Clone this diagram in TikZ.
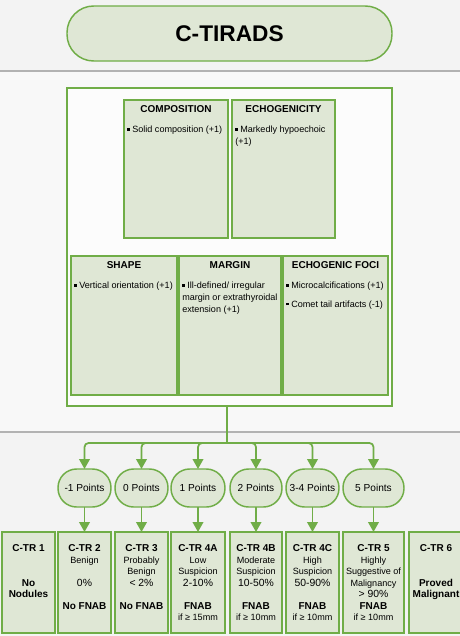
\documentclass[tikz,border=0pt]{standalone}
\usepackage{fontspec}
\setmainfont{Liberation Sans}
\usetikzlibrary{arrows.meta}
\definecolor{leaf}{HTML}{70AD47}
\definecolor{sage}{HTML}{DFE7D5}
\definecolor{bandgray}{HTML}{F3F3F3}
\definecolor{midgray}{HTML}{F8F8F8}
\definecolor{rulegray}{HTML}{B2B2B2}
\newcommand{\ctrhead}{\fontsize{7.5}{9}\selectfont\bfseries}
\newcommand{\ctrdesc}{\fontsize{6.8}{8}\selectfont}
\newcommand{\ctrpct}{\fontsize{7.8}{9}\selectfont}
\newcommand{\sqbullet}{\rule[0.22em]{0.28em}{0.28em}\ }
\tikzset{
  greenbox/.style={draw=leaf, fill=sage, line width=1.1pt, inner sep=0pt, outer sep=0pt},
  pill/.style={greenbox, rounded corners=14pt, font=\fontsize{7.6}{9}\selectfont},
  feathead/.style={inner sep=0pt, font=\fontsize{7.5}{9}\selectfont\bfseries},
  featbody/.style={inner sep=0pt, align=left, font=\fontsize{6.8}{8.8}\selectfont},
  rowtext/.style={anchor=base, inner sep=0pt},
  trunk/.style={draw=leaf, line width=1.7pt},
  branch/.style={draw=leaf, line width=1.3pt, rounded corners=3pt, -{Triangle[width=8pt,length=7.5pt]}},
  rule/.style={draw=rulegray, line width=0.9pt}
}
\newcommand{\featurebox}[7]{
  \node[greenbox, minimum width={(#4-#2)*0.75pt}, minimum height={(#5-#3)*0.75pt}] (#1) at ({(#2+#4)/2},{(#3+#5)/2}) {};
  \node[feathead, anchor=base] (#1-head) at ({(#2+#4)/2},{#3+12}) {#6};
  \node[featbody, anchor=north west] (#1-body) at ({#2+3},{#3+26}) {#7};
}
\newcommand{\pointpill}[4]{
  \node[pill, minimum width={(#3-#2)*0.75pt}, minimum height=28.5pt] (#1) at ({(#2+#3)/2},488) {#4};
}
\newcommand{\resultbox}[4]{
  \node[greenbox, minimum width={(#3-#2)*0.75pt}, minimum height=75.75pt] (#1) at ({(#2+#3)/2},582.5) {};
  \foreach \r/\t in {#4}{
    \node[rowtext] (#1-\r) at ({(#2+#3)/2},{551.5+11.5*\r}) {\t};
  }
}

\begin{document}
\begin{tikzpicture}[x=0.75pt, y=-0.75pt]
  \useasboundingbox (0,0) rectangle (460,636);
  \fill[bandgray] (0,0) rectangle (460,71);
  \fill[midgray] (0,71) rectangle (460,432);
  \fill[bandgray] (0,432) rectangle (460,636);
  \draw[rule] (0,71) -- (460,71);
  \draw[rule] (0,432) -- (460,432);

  \node[greenbox, rounded corners=20pt, minimum width=243.75pt, minimum height=41.25pt,
        font=\fontsize{17}{20}\selectfont\bfseries] (title) at (229.5,33.5) {C-TIRADS};

  \node[draw=leaf, fill=white!60!midgray, line width=1.1pt, inner sep=0pt,
        minimum width=243.75pt, minimum height=238.5pt] (frame) at (229.5,247) {};

  \featurebox{comp}{124}{100}{228}{238}{COMPOSITION}{\sqbullet Solid composition (+1)}
  \featurebox{echo}{232}{100}{335}{238}{ECHOGENICITY}{\sqbullet Markedly hypoechoic\\(+1)}
  \featurebox{shape}{71}{256}{177}{395}{SHAPE}{\sqbullet Vertical orientation (+1)}
  \featurebox{margin}{179}{256}{281}{395}{MARGIN}{\sqbullet Ill-defined/ irregular\\margin or extrathyroidal\\extension (+1)}
  \featurebox{foci}{283}{256}{388}{395}{ECHOGENIC FOCI}{\sqbullet Microcalcifications (+1)\\[5pt]\sqbullet Comet tail artifacts (-1)}

  \pointpill{pm1}{58}{111}{-1 Points}
  \pointpill{p0}{115}{168}{0 Points}
  \pointpill{p1}{171}{225}{1 Points}
  \pointpill{p2}{230}{282}{2 Points}
  \pointpill{p34}{286}{339}{3-4 Points}
  \pointpill{p5}{343}{404}{5 Points}

  \resultbox{ctr1}{2}{55}{0/{\ctrhead C-TR 1}, 3/{\ctrhead No}, 4/{\ctrhead Nodules}}
  \resultbox{ctr2}{58}{111}{0/{\ctrhead C-TR 2}, 1/{\ctrdesc Benign}, 3/{\ctrpct 0\%}, 5/{\ctrhead No FNAB}}
  \resultbox{ctr3}{115}{168}{0/{\ctrhead C-TR 3}, 1/{\ctrdesc Probably}, 2/{\ctrdesc Benign}, 3/{\ctrpct < 2\%}, 5/{\ctrhead No FNAB}}
  \resultbox{ctr4a}{171}{225}{0/{\ctrhead C-TR 4A}, 1/{\ctrdesc Low}, 2/{\ctrdesc Suspicion}, 3/{\ctrpct 2-10\%}, 5/{\ctrhead FNAB}, 6/{\ctrdesc if ≥ 15mm}}
  \resultbox{ctr4b}{230}{282}{0/{\ctrhead C-TR 4B}, 1/{\ctrdesc Moderate}, 2/{\ctrdesc Suspicion}, 3/{\ctrpct 10-50\%}, 5/{\ctrhead FNAB}, 6/{\ctrdesc if ≥ 10mm}}
  \resultbox{ctr4c}{286}{339}{0/{\ctrhead C-TR 4C}, 1/{\ctrdesc High}, 2/{\ctrdesc Suspicion}, 3/{\ctrpct 50-90\%}, 5/{\ctrhead FNAB}, 6/{\ctrdesc if ≥ 10mm}}
  \resultbox{ctr5}{343}{404}{0/{\ctrhead C-TR 5}, 1/{\ctrdesc Highly}, 2/{\ctrdesc Suggestive of}, 3/{\ctrdesc Malignancy}, 4/{\ctrpct > 90\%}, 5/{\ctrhead FNAB}, 6/{\ctrdesc if ≥ 10mm}}
  \resultbox{ctr6}{409}{463}{0/{\ctrhead C-TR 6}, 3/{\ctrhead Proved}, 4/{\ctrhead Malignant}}

  % frame to the point groups
  \coordinate (hub) at (227,443);
  \draw[trunk] (frame.south -| hub) -- (hub);
  \foreach \p in {pm1,p0,p1,p2,p34,p5}
    \draw[branch] (hub) -| (\p.north);
  \foreach \p/\b in {pm1/ctr2,p0/ctr3,p1/ctr4a,p2/ctr4b,p34/ctr4c,p5/ctr5}
    \draw[branch] (\p.south) -- (\b.north);
\end{tikzpicture}
\end{document}
